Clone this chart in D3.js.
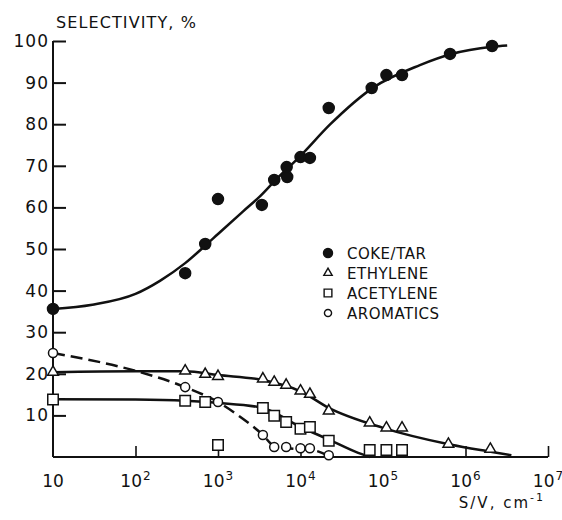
<!DOCTYPE html>
<html>
<head>
<meta charset="utf-8">
<script src="https://cdn.jsdelivr.net/npm/d3@7"></script>
<style>
	body { margin: 0; background: #fff; }
	svg { display: block; }
	text { font-family: "DejaVu Sans", sans-serif; fill: #111; }
</style>
</head>
<body>
<svg id="chart" width="562" height="520"></svg>
<script>
// measured points
var cokeX = [10, 400, 700, 1000, 3400, 4800, 6800, 6900, 10000, 13000, 22000, 73000, 110000, 170000, 650000, 2100000];
var cokeY = [35.6, 44.2, 51.2, 62, 60.6, 66.6, 69.7, 67.3, 72.1, 71.9, 83.9, 88.7, 91.8, 91.8, 96.9, 98.8];

var ethX = [10, 400, 700, 1000, 3500, 4800, 6700, 10000, 13000, 22000, 69000, 110000, 170000, 620000, 2000000];
var ethY = [20.4, 20.7, 19.9, 19.4, 18.8, 18.0, 17.3, 15.9, 15.1, 11.1, 8.2, 7.0, 7.0, 3.1, 1.9];

var acetX = [10, 400, 700, 1000, 3500, 4800, 6700, 10000, 13000, 22000, 69000, 110000, 170000];
var acetY = [13.8, 13.5, 13.2, 2.9, 11.8, 9.9, 8.4, 6.8, 7.2, 3.9, 1.7, 1.7, 1.7];

var aromX = [10, 400, 1000, 3500, 4800, 6700, 10000, 13000, 22000];
var aromY = [25.0, 16.8, 13.2, 5.3, 2.4, 2.4, 2.1, 2.1, 0.4];

// fitted curves as drawn
var cokeCurveX = [10, 30, 100, 200, 400, 700, 1000, 2000, 3200, 5000, 10000, 23000, 76000, 280000, 660000, 2100000, 3200000];
var cokeCurveY = [35.6, 36.6, 39.2, 42.4, 46.6, 50.8, 53.6, 59.0, 62.6, 66.6, 72.4, 80.0, 88.8, 94.2, 96.8, 98.6, 98.9];

var ethCurveX = [10, 100, 400, 1000, 3500, 10000, 22000, 100000, 650000, 2100000, 3600000];
var ethCurveY = [20.4, 20.6, 20.6, 19.7, 18.5, 15.8, 11.8, 7.0, 3.0, 1.2, 0.4];

var acetCurveX = [10, 100, 400, 1000, 3500, 10000, 22000, 50000, 70000];
var acetCurveY = [13.9, 13.8, 13.5, 13.0, 11.8, 7.2, 4.2, 1.0, 0];

var aromCurveX = [10, 100, 400, 1000, 2000, 3500, 4800, 7000, 13000, 22000];
var aromCurveY = [25.0, 20.7, 16.8, 13.2, 9.2, 5.3, 2.6, 2.1, 1.8, 0.3];

var xTicks = [10, 100, 1000, 10000, 100000, 1000000, 10000000];
var yTicks = [10, 20, 30, 40, 50, 60, 70, 80, 90, 100];

var legendNames = ["COKE/TAR", "ETHYLENE", "ACETYLENE", "AROMATICS"];

var svg = d3.select("#chart");
var ink = "#111";

var x = d3.scaleLog().domain([10, 1e7]).range([53, 548]);
var y = d3.scaleLinear().domain([0, 100]).range([457, 41]);

// y axis, ticks pointing inward
var yAxis = svg.append("g")
	.attr("transform", "translate(53,0)")
	.call(d3.axisLeft(y).tickValues(yTicks).tickSizeInner(-13).tickSizeOuter(0).tickPadding(4));
yAxis.select(".domain").attr("stroke", ink).attr("stroke-width", 2)
	.attr("d", "M0," + y(100) + "V" + y(0));
yAxis.selectAll(".tick line").attr("stroke", ink).attr("stroke-width", 2);
yAxis.selectAll(".tick text")
	.attr("font-size", 17)
	.attr("letter-spacing", 1)
	.attr("font-family", "DejaVu Sans")
	.attr("fill", ink);

// x axis, ticks pointing up
var xAxis = svg.append("g")
	.attr("transform", "translate(0,457)")
	.call(d3.axisBottom(x).tickValues(xTicks.slice(1)).tickSizeInner(-11).tickSizeOuter(0).tickFormat(""));
xAxis.select(".domain").attr("stroke", ink).attr("stroke-width", 2)
	.attr("d", "M" + x(10) + ",0H" + x(1e7));
xAxis.selectAll(".tick line").attr("stroke", ink).attr("stroke-width", 1.6);

var xl = svg.append("g");
xTicks.forEach(function(t) {
	var e = Math.round(Math.log10(t));
	var txt = xl.append("text")
		.attr("x", x(t))
		.attr("y", 487)
		.attr("text-anchor", "middle")
		.attr("font-size", 17);
	txt.append("tspan").text("10");
	if (e > 1) {
		txt.append("tspan")
			.attr("font-size", 12)
			.attr("dy", -7)
			.attr("dx", 1)
			.text(e);
	}
});

// titles
svg.append("text")
	.attr("x", 56)
	.attr("y", 28)
	.attr("font-size", 16)
	.attr("letter-spacing", 1.1)
	.text("SELECTIVITY, %");

var xt = svg.append("text")
	.attr("x", 545)
	.attr("y", 508)
	.attr("text-anchor", "end")
	.attr("font-size", 15)
	.attr("letter-spacing", 2);
xt.append("tspan").text("S/V,  cm");
xt.append("tspan").attr("font-size", 11).attr("dy", -7).text("-1");

// curves
var line = d3.line()
	.x(function(d) { return x(d[0]); })
	.y(function(d) { return y(d[1]); })
	.curve(d3.curveMonotoneX);

function drawCurve(xs, ys, dashed) {
	var p = svg.append("path")
		.datum(d3.zip(xs, ys))
		.attr("d", line)
		.attr("fill", "none")
		.attr("stroke", ink)
		.attr("stroke-width", 2.5);
	if (dashed) p.attr("stroke-dasharray", "12,6");
}
drawCurve(cokeCurveX, cokeCurveY, false);
drawCurve(ethCurveX, ethCurveY, false);
drawCurve(acetCurveX, acetCurveY, false);
drawCurve(aromCurveX, aromCurveY, true);

// markers
var shapes = [
	{ type: d3.symbolCircle, size: 95, fill: ink },
	{ type: d3.symbolTriangle, size: 50, fill: "#fff" },
	{ type: d3.symbolSquare, size: 110, fill: "#fff" },
	{ type: d3.symbolCircle, size: 64, fill: "#fff" }
];
var legendShapes = [
	{ type: d3.symbolCircle, size: 64, fill: ink },
	{ type: d3.symbolTriangle, size: 30, fill: "#fff" },
	{ type: d3.symbolSquare, size: 60, fill: "#fff" },
	{ type: d3.symbolCircle, size: 40, fill: "#fff" }
];

function drawPoints(xs, ys, s) {
	svg.append("g").selectAll("path")
		.data(d3.zip(xs, ys))
		.join("path")
		.attr("transform", function(d) { return "translate(" + x(d[0]) + "," + y(d[1]) + ")"; })
		.attr("d", d3.symbol().type(s.type).size(s.size))
		.attr("fill", s.fill)
		.attr("stroke", ink)
		.attr("stroke-width", 1.5);
}
drawPoints(ethX, ethY, shapes[1]);
drawPoints(acetX, acetY, shapes[2]);
drawPoints(aromX, aromY, shapes[3]);
drawPoints(cokeX, cokeY, shapes[0]);

// legend
var lg = svg.append("g");
legendNames.forEach(function(n, i) {
	var ly = 253 + i * 20;
	var s = legendShapes[i];
	lg.append("path")
		.attr("transform", "translate(328," + ly + ")")
		.attr("d", d3.symbol().type(s.type).size(s.size))
		.attr("fill", s.fill)
		.attr("stroke", ink)
		.attr("stroke-width", 1.4);
	lg.append("text")
		.attr("x", 347)
		.attr("y", ly + 5.5)
		.attr("font-size", 15)
		.attr("letter-spacing", 0.5)
		.text(n);
});
</script>
</body>
</html>
